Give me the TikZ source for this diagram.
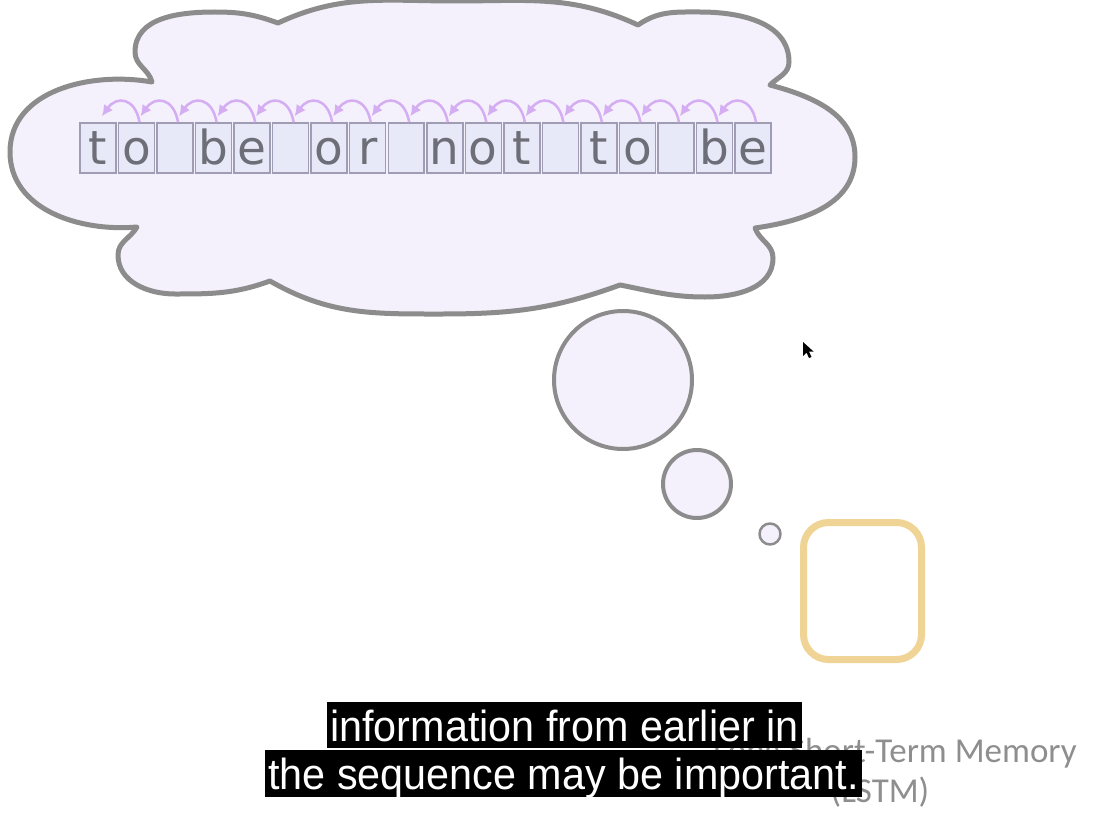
\documentclass[tikz,border=0pt]{standalone}
\usepackage{fontspec}
\usetikzlibrary{arrows.meta}
\newfontfamily\charfont{DejaVu Sans}
\newfontfamily\titlefont{Carlito}
\newfontfamily\subfont[FakeStretch=0.95]{Liberation Sans}
\definecolor{cloudfill}{HTML}{F4F0FC}
\definecolor{cloudline}{HTML}{8C8C8C}
\definecolor{boxfill}{HTML}{E8E9F8}
\definecolor{boxline}{HTML}{A09CB4}
\definecolor{chartext}{HTML}{6E6E78}
\definecolor{arrcol}{HTML}{D4ADF2}
\definecolor{lstmgold}{HTML}{F0D495}
\definecolor{titlegray}{HTML}{8E8E8E}
\begin{document}
\begin{tikzpicture}[x=0.02cm,y=0.02cm,
  cloudstyle/.style={fill=cloudfill, draw=cloudline, line join=round},
  charbox/.style={draw=boxline, fill=boxfill, line width=0.03cm, minimum width=0.72cm,
    inner xsep=0pt, inner ysep=0pt, text height=0.84cm, text depth=0.16cm, text=chartext,
    font=\charfont\fontsize{26.7pt}{30pt}\selectfont},
  back/.style={draw=arrcol, line width=0.05cm, -{Latex[length=0.22cm,width=0.22cm]}},
  subline/.style={fill=black, text=white, inner xsep=0.07cm, inner ysep=0pt, text height=0.78cm,
    font=\subfont\fontsize{24.75pt}{28pt}\selectfont, anchor=base},
  titletext/.style={text=titlegray, inner sep=0pt, font=\titlefont\fontsize{19.9pt}{23pt}\selectfont}
]
\path[fill=white,use as bounding box] (0,0) rectangle (1108,-828);

% big cloud
\draw[cloudstyle, line width=0.1cm]
  (152,-82) to[out=105,in=270] (135,-52) to[out=90,in=180] (215,-12)
  to[out=0,in=160] (278,-23)
  to[out=25,in=180] (455,-1)
  to[out=0,in=155] (638,-25)
  to[out=35,in=180] (700,-12)
  to[out=0,in=90] (789,-62)
  to[out=270,in=45] (770,-85)
  to[out=-15,in=90] (855,-157)
  to[out=270,in=8] (755,-228)
  to[out=-70,in=90] (773,-258)
  to[out=270,in=0] (705,-297)
  to[out=180,in=-11] (620,-285)
  to[out=200,in=0] (440,-314)
  to[out=180,in=-30] (270,-281)
  to[out=200,in=0] (175,-294)
  to[out=180,in=270] (118,-255)
  to[out=90,in=240] (137,-227)
  to[out=185,in=270] (10,-152)
  to[out=90,in=170] (152,-82) -- cycle;

% thought bubbles
\draw[cloudstyle, line width=0.08cm] (623,-380) circle (69);
\draw[cloudstyle, line width=0.08cm] (697,-484) circle (34);
\draw[cloudstyle, line width=0.05cm] (770,-534) circle (10.5);

% LSTM cell outline
\draw[draw=lstmgold, line width=0.14cm, rounded corners=0.5cm] (803.5,-522.5) rectangle (921.5,-659.5);

% character boxes
\foreach \ch [count=\i from 0] in {t,o,{},b,e,{},o,r,{},n,o,t,{},t,o,{},b,e} {
  \node[charbox] (c\i) at ({98+38.53*\i},-148) {\ch};
}
% backward arrows
\foreach \i in {1,...,17} {
  \pgfmathtruncatemacro\j{\i-1}
  \draw[back] ([shift={(3,0)}]c\i.north) to[out=100,in=55,looseness=1.7] ([shift={(4,6)}]c\j.north);
}

% title behind subtitles
\node[titletext, anchor=base east] (title1) at (1077,-762) {Long Short-Term Memory};
\node[titletext, anchor=base] (title2) at (880,-802) {(LSTM)};

% subtitles
\node[subline, text depth=0.14cm] (sub1) at (564.5,-741) {information from earlier in};
\node[subline, text depth=0.16cm] (sub2) at (563.5,-789) {the sequence may be important.};

% mouse cursor
\fill[black] (803,-342) -- (803,-356) -- (806.5,-352.5) -- (809,-358) -- (811.5,-357) -- (809,-351.5) -- (813.5,-351.5) -- cycle;
\end{tikzpicture}
\end{document}
